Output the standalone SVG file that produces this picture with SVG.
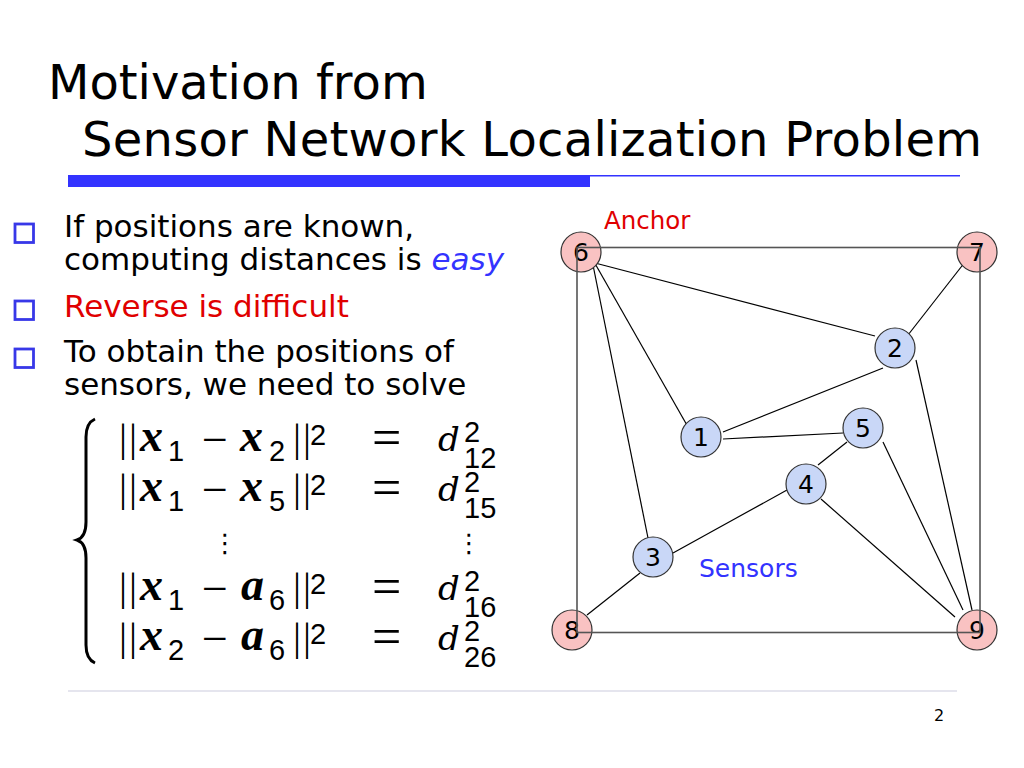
<svg xmlns="http://www.w3.org/2000/svg" width="1024" height="768" viewBox="0 0 1024 768">
<style>
text{font-family:"DejaVu Sans","Liberation Sans",sans-serif}
.title{font-size:48px;fill:#000}
.body{font-size:31px;fill:#000}
.sq{fill:none;stroke:#3838E8;stroke-width:2.8}
.edge{stroke:#000;stroke-width:1.2;fill:none}
.anc{fill:#F9C2C2;stroke:#333;stroke-width:1.2}
.sen{fill:#C9D7F7;stroke:#333;stroke-width:1.2}
.lbl{font-size:25px;fill:#000;text-anchor:middle}
.m{font-family:"Liberation Serif",serif;font-style:italic;font-weight:bold;font-size:46px}
.n{font-family:"Liberation Sans",sans-serif;font-size:29px}
.bar{font-family:"Liberation Serif",serif;font-size:40px}
.op{font-family:"Liberation Serif",serif;font-size:46px}
.eq{font-family:"Liberation Serif",serif;font-size:52px}
.d{font-family:"DejaVu Serif",serif;font-style:italic;font-size:34px}
.dots{font-family:"DejaVu Sans",sans-serif;font-size:26px;text-anchor:middle}
</style>
<rect width="1024" height="768" fill="#fff"/>
<g id="title">
<text class="title" x="48" y="99">Motivation from</text>
<text class="title" x="82" y="156" textLength="900" lengthAdjust="spacing">Sensor Network Localization Problem</text>
<rect x="68" y="175" width="522" height="12" fill="#3333FF"/>
<line x1="590" y1="175.7" x2="960" y2="175.7" stroke="#3333FF" stroke-width="1.5"/>
</g>
<g id="bullets">
<rect class="sq" x="15" y="224" width="18.5" height="18.5"/>
<rect class="sq" x="15" y="301" width="18.5" height="18.5"/>
<rect class="sq" x="15" y="349" width="18.5" height="18.5"/>
<text class="body" x="64" y="237">If positions are known,</text>
<text class="body" x="64" y="270">computing distances is <tspan fill="#3333FF" font-style="italic">easy</tspan></text>
<text class="body" x="64" y="317" style="fill:#E00000">Reverse is difficult</text>
<text class="body" x="64" y="362">To obtain the positions of</text>
<text class="body" x="64" y="395">sensors, we need to solve</text>
</g>
<g id="equations">
<path d="M95,419 Q86,423 86,437 L86,522 Q86,537 77,540 Q86,543 86,558 L86,645 Q86,659 95,663" fill="none" stroke="#000" stroke-width="3"/>
<g id="row1">
<text class="bar" x="119" y="451">|</text><text class="bar" x="129" y="451">|</text>
<text class="m" x="140" y="451">x</text><text class="n" x="168" y="461">1</text>
<text class="op" x="202" y="455">−</text>
<text class="m" x="240" y="451">x</text><text class="n" x="269" y="461">2</text>
<text class="bar" x="293" y="451">|</text><text class="bar" x="303" y="451">|</text>
<text class="n" x="310" y="445">2</text>
<text class="eq" x="372" y="455">=</text>
<text class="d" x="438" y="451">d</text><text class="n" x="464" y="442">2</text><text class="n" x="464" y="468">12</text>
</g>
<g id="row2">
<text class="bar" x="119" y="501">|</text><text class="bar" x="129" y="501">|</text>
<text class="m" x="140" y="501">x</text><text class="n" x="168" y="511">1</text>
<text class="op" x="202" y="505">−</text>
<text class="m" x="240" y="501">x</text><text class="n" x="269" y="511">5</text>
<text class="bar" x="293" y="501">|</text><text class="bar" x="303" y="501">|</text>
<text class="n" x="310" y="495">2</text>
<text class="eq" x="372" y="505">=</text>
<text class="d" x="438" y="501">d</text><text class="n" x="464" y="492">2</text><text class="n" x="464" y="518">15</text>
</g>
<text class="dots" x="225" y="552">⋮</text>
<text class="dots" x="469" y="552">⋮</text>
<g id="row3">
<text class="bar" x="119" y="600">|</text><text class="bar" x="129" y="600">|</text>
<text class="m" x="140" y="600">x</text><text class="n" x="168" y="610">1</text>
<text class="op" x="202" y="604">−</text>
<text class="m" x="241" y="600">a</text><text class="n" x="269" y="610">6</text>
<text class="bar" x="293" y="600">|</text><text class="bar" x="303" y="600">|</text>
<text class="n" x="310" y="594">2</text>
<text class="eq" x="372" y="604">=</text>
<text class="d" x="438" y="600">d</text><text class="n" x="464" y="591">2</text><text class="n" x="464" y="617">16</text>
</g>
<g id="row4">
<text class="bar" x="119" y="650">|</text><text class="bar" x="129" y="650">|</text>
<text class="m" x="140" y="650">x</text><text class="n" x="168" y="660">2</text>
<text class="op" x="202" y="654">−</text>
<text class="m" x="241" y="650">a</text><text class="n" x="269" y="660">6</text>
<text class="bar" x="293" y="650">|</text><text class="bar" x="303" y="650">|</text>
<text class="n" x="310" y="644">2</text>
<text class="eq" x="372" y="654">=</text>
<text class="d" x="438" y="650">d</text><text class="n" x="464" y="641">2</text><text class="n" x="464" y="667">26</text>
</g>
</g>
<g id="connectors">
<line class="edge" x1="595" y1="263" x2="875" y2="336"/>
<line class="edge" x1="593" y1="260" x2="688" y2="427"/>
<line class="edge" x1="593" y1="265" x2="648" y2="538"/>
<line class="edge" x1="965" y1="262" x2="908" y2="335"/>
<line class="edge" x1="883" y1="368" x2="723" y2="432"/>
<line class="edge" x1="723" y1="439" x2="843" y2="433"/>
<line class="edge" x1="847" y1="442" x2="818" y2="465"/>
<line class="edge" x1="883" y1="442" x2="963" y2="610"/>
<line class="edge" x1="916" y1="360" x2="972" y2="610"/>
<line class="edge" x1="787" y1="490" x2="673" y2="553"/>
<line class="edge" x1="821" y1="499" x2="955" y2="617"/>
<line class="edge" x1="640" y1="573" x2="587" y2="615"/>
</g>
<g id="node6"><circle class="anc" cx="581" cy="252" r="20"/><text class="lbl" x="581" y="261">6</text></g>
<g id="node7"><circle class="anc" cx="977" cy="252" r="20"/><text class="lbl" x="977" y="261">7</text></g>
<g id="node8"><circle class="anc" cx="572" cy="630" r="20"/><text class="lbl" x="572" y="639">8</text></g>
<g id="node9"><circle class="anc" cx="977" cy="630" r="20"/><text class="lbl" x="977" y="639">9</text></g>
<g id="node1"><circle class="sen" cx="701" cy="437" r="20"/><text class="lbl" x="701" y="446">1</text></g>
<g id="node2"><circle class="sen" cx="895" cy="348" r="20"/><text class="lbl" x="895" y="357">2</text></g>
<g id="node3"><circle class="sen" cx="653" cy="557" r="20"/><text class="lbl" x="653" y="566">3</text></g>
<g id="node4"><circle class="sen" cx="806" cy="484" r="20"/><text class="lbl" x="806" y="493">4</text></g>
<g id="node5"><circle class="sen" cx="863" cy="428" r="20"/><text class="lbl" x="863" y="437">5</text></g>
<g id="frame">
<rect x="577" y="247.5" width="403" height="385" fill="none" stroke="#555" stroke-width="1.6"/>
</g>
<text x="604" y="229" font-size="24.5" fill="#E00000">Anchor</text>
<text x="699" y="577" font-size="25" fill="#3333FF">Sensors</text>
<line x1="68" y1="691" x2="957" y2="691" stroke="#CCCCDD" stroke-width="1.2"/>
<text x="934" y="721" font-size="16" fill="#000">2</text>
</svg>
